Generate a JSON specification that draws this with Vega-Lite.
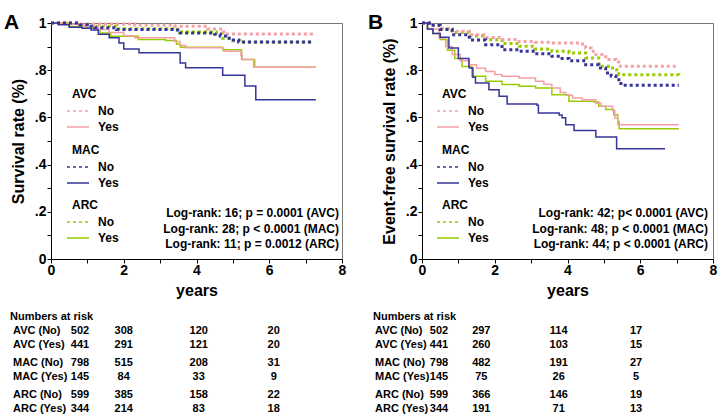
{
  "$schema": "https://vega.github.io/schema/vega-lite/v6.json",
  "padding": {"left": 3, "top": 11, "right": 0, "bottom": 0},
  "background": "white",
  "columns": 2,
  "spacing": {"row": 63, "column": 80},
  "bounds": "flush",
  "datasets": {
    "kmA": [
      {"m":"AVC","st":"No","t":0,"s":1},{"m":"AVC","st":"No","t":0.8,"s":0.996},{"m":"AVC","st":"No","t":2.3,"s":0.99},{"m":"AVC","st":"No","t":3.4,"s":0.986},{"m":"AVC","st":"No","t":4.3,"s":0.975},{"m":"AVC","st":"No","t":4.72,"s":0.963},{"m":"AVC","st":"No","t":4.85,"s":0.953},{"m":"AVC","st":"No","t":7.25,"s":0.953},
      {"m":"AVC","st":"Yes","t":0,"s":1},{"m":"AVC","st":"Yes","t":0.4,"s":0.995},{"m":"AVC","st":"Yes","t":0.9,"s":0.985},{"m":"AVC","st":"Yes","t":1.3,"s":0.972},{"m":"AVC","st":"Yes","t":1.6,"s":0.96},{"m":"AVC","st":"Yes","t":2.0,"s":0.946},{"m":"AVC","st":"Yes","t":2.3,"s":0.937},{"m":"AVC","st":"Yes","t":3.4,"s":0.922},{"m":"AVC","st":"Yes","t":3.55,"s":0.905},{"m":"AVC","st":"Yes","t":3.7,"s":0.895},{"m":"AVC","st":"Yes","t":4.72,"s":0.892},{"m":"AVC","st":"Yes","t":4.75,"s":0.88},{"m":"AVC","st":"Yes","t":5.22,"s":0.862},{"m":"AVC","st":"Yes","t":5.26,"s":0.845},{"m":"AVC","st":"Yes","t":5.57,"s":0.812},{"m":"AVC","st":"Yes","t":7.28,"s":0.812},
      {"m":"MAC","st":"No","t":0,"s":1},{"m":"MAC","st":"No","t":0.8,"s":0.993},{"m":"MAC","st":"No","t":1.0,"s":0.986},{"m":"MAC","st":"No","t":1.2,"s":0.98},{"m":"MAC","st":"No","t":1.8,"s":0.972},{"m":"MAC","st":"No","t":3.4,"s":0.97},{"m":"MAC","st":"No","t":3.55,"s":0.958},{"m":"MAC","st":"No","t":4.5,"s":0.952},{"m":"MAC","st":"No","t":4.65,"s":0.945},{"m":"MAC","st":"No","t":4.8,"s":0.935},{"m":"MAC","st":"No","t":4.95,"s":0.928},{"m":"MAC","st":"No","t":5.16,"s":0.92},{"m":"MAC","st":"No","t":7.2,"s":0.92},
      {"m":"MAC","st":"Yes","t":0,"s":1},{"m":"MAC","st":"Yes","t":0.2,"s":0.993},{"m":"MAC","st":"Yes","t":0.5,"s":0.982},{"m":"MAC","st":"Yes","t":0.85,"s":0.978},{"m":"MAC","st":"Yes","t":1.1,"s":0.97},{"m":"MAC","st":"Yes","t":1.3,"s":0.952},{"m":"MAC","st":"Yes","t":1.6,"s":0.937},{"m":"MAC","st":"Yes","t":1.87,"s":0.915},{"m":"MAC","st":"Yes","t":2.0,"s":0.89},{"m":"MAC","st":"Yes","t":2.42,"s":0.874},{"m":"MAC","st":"Yes","t":3.55,"s":0.83},{"m":"MAC","st":"Yes","t":3.7,"s":0.81},{"m":"MAC","st":"Yes","t":4.72,"s":0.779},{"m":"MAC","st":"Yes","t":5.33,"s":0.733},{"m":"MAC","st":"Yes","t":5.63,"s":0.675},{"m":"MAC","st":"Yes","t":7.28,"s":0.675},
      {"m":"ARC","st":"No","t":0,"s":1},{"m":"ARC","st":"No","t":0.8,"s":0.994},{"m":"ARC","st":"No","t":1.2,"s":0.986},{"m":"ARC","st":"No","t":1.8,"s":0.976},{"m":"ARC","st":"No","t":3.4,"s":0.973},{"m":"ARC","st":"No","t":3.55,"s":0.962},{"m":"ARC","st":"No","t":4.55,"s":0.955},{"m":"ARC","st":"No","t":4.72,"s":0.935},{"m":"ARC","st":"No","t":4.9,"s":0.925},{"m":"ARC","st":"No","t":5.2,"s":0.918},{"m":"ARC","st":"No","t":7.2,"s":0.918},
      {"m":"ARC","st":"Yes","t":0,"s":1},{"m":"ARC","st":"Yes","t":0.5,"s":0.985},{"m":"ARC","st":"Yes","t":1.0,"s":0.978},{"m":"ARC","st":"Yes","t":1.3,"s":0.972},{"m":"ARC","st":"Yes","t":1.35,"s":0.958},{"m":"ARC","st":"Yes","t":1.64,"s":0.944},{"m":"ARC","st":"Yes","t":2.4,"s":0.93},{"m":"ARC","st":"Yes","t":3.15,"s":0.926},{"m":"ARC","st":"Yes","t":3.45,"s":0.91},{"m":"ARC","st":"Yes","t":3.56,"s":0.897},{"m":"ARC","st":"Yes","t":4.72,"s":0.887},{"m":"ARC","st":"Yes","t":5.24,"s":0.845},{"m":"ARC","st":"Yes","t":5.6,"s":0.812},{"m":"ARC","st":"Yes","t":7.28,"s":0.812}
    ],
    "kmB": [
      {"m":"AVC","st":"No","t":0,"s":1},{"m":"AVC","st":"No","t":0.2,"s":0.99},{"m":"AVC","st":"No","t":0.5,"s":0.978},{"m":"AVC","st":"No","t":0.83,"s":0.965},{"m":"AVC","st":"No","t":1.3,"s":0.95},{"m":"AVC","st":"No","t":1.75,"s":0.939},{"m":"AVC","st":"No","t":2.2,"s":0.93},{"m":"AVC","st":"No","t":2.67,"s":0.922},{"m":"AVC","st":"No","t":3.1,"s":0.918},{"m":"AVC","st":"No","t":3.57,"s":0.915},{"m":"AVC","st":"No","t":4.37,"s":0.911},{"m":"AVC","st":"No","t":4.5,"s":0.894},{"m":"AVC","st":"No","t":4.65,"s":0.88},{"m":"AVC","st":"No","t":4.78,"s":0.866},{"m":"AVC","st":"No","t":5.05,"s":0.845},{"m":"AVC","st":"No","t":5.33,"s":0.835},{"m":"AVC","st":"No","t":5.41,"s":0.817},{"m":"AVC","st":"No","t":7.06,"s":0.817},
      {"m":"AVC","st":"Yes","t":0,"s":1},{"m":"AVC","st":"Yes","t":0.15,"s":0.975},{"m":"AVC","st":"Yes","t":0.47,"s":0.936},{"m":"AVC","st":"Yes","t":0.65,"s":0.9},{"m":"AVC","st":"Yes","t":0.83,"s":0.866},{"m":"AVC","st":"Yes","t":1.05,"s":0.84},{"m":"AVC","st":"Yes","t":1.29,"s":0.823},{"m":"AVC","st":"Yes","t":1.5,"s":0.808},{"m":"AVC","st":"Yes","t":1.75,"s":0.795},{"m":"AVC","st":"Yes","t":2.0,"s":0.782},{"m":"AVC","st":"Yes","t":2.2,"s":0.774},{"m":"AVC","st":"Yes","t":2.67,"s":0.767},{"m":"AVC","st":"Yes","t":3.12,"s":0.753},{"m":"AVC","st":"Yes","t":3.35,"s":0.74},{"m":"AVC","st":"Yes","t":3.57,"s":0.725},{"m":"AVC","st":"Yes","t":3.8,"s":0.705},{"m":"AVC","st":"Yes","t":3.95,"s":0.694},{"m":"AVC","st":"Yes","t":4.14,"s":0.682},{"m":"AVC","st":"Yes","t":4.41,"s":0.675},{"m":"AVC","st":"Yes","t":4.78,"s":0.66},{"m":"AVC","st":"Yes","t":4.92,"s":0.647},{"m":"AVC","st":"Yes","t":5.24,"s":0.628},{"m":"AVC","st":"Yes","t":5.3,"s":0.597},{"m":"AVC","st":"Yes","t":5.38,"s":0.569},{"m":"AVC","st":"Yes","t":7.06,"s":0.569},
      {"m":"MAC","st":"No","t":0,"s":1},{"m":"MAC","st":"No","t":0.2,"s":0.99},{"m":"MAC","st":"No","t":0.5,"s":0.972},{"m":"MAC","st":"No","t":0.83,"s":0.95},{"m":"MAC","st":"No","t":1.3,"s":0.928},{"m":"MAC","st":"No","t":1.75,"s":0.908},{"m":"MAC","st":"No","t":2.2,"s":0.887},{"m":"MAC","st":"No","t":2.67,"s":0.88},{"m":"MAC","st":"No","t":3.1,"s":0.87},{"m":"MAC","st":"No","t":3.57,"s":0.859},{"m":"MAC","st":"No","t":3.8,"s":0.85},{"m":"MAC","st":"No","t":4.04,"s":0.84},{"m":"MAC","st":"No","t":4.5,"s":0.823},{"m":"MAC","st":"No","t":4.86,"s":0.809},{"m":"MAC","st":"No","t":5.05,"s":0.788},{"m":"MAC","st":"No","t":5.2,"s":0.775},{"m":"MAC","st":"No","t":5.33,"s":0.76},{"m":"MAC","st":"No","t":5.47,"s":0.736},{"m":"MAC","st":"No","t":7.06,"s":0.736},
      {"m":"MAC","st":"Yes","t":0,"s":1},{"m":"MAC","st":"Yes","t":0.15,"s":0.975},{"m":"MAC","st":"Yes","t":0.3,"s":0.955},{"m":"MAC","st":"Yes","t":0.5,"s":0.94},{"m":"MAC","st":"Yes","t":0.74,"s":0.894},{"m":"MAC","st":"Yes","t":1.0,"s":0.85},{"m":"MAC","st":"Yes","t":1.29,"s":0.809},{"m":"MAC","st":"Yes","t":1.4,"s":0.77},{"m":"MAC","st":"Yes","t":1.47,"s":0.746},{"m":"MAC","st":"Yes","t":1.84,"s":0.717},{"m":"MAC","st":"Yes","t":2.12,"s":0.69},{"m":"MAC","st":"Yes","t":2.34,"s":0.657},{"m":"MAC","st":"Yes","t":3.16,"s":0.651},{"m":"MAC","st":"Yes","t":3.2,"s":0.619},{"m":"MAC","st":"Yes","t":3.77,"s":0.61},{"m":"MAC","st":"Yes","t":3.85,"s":0.598},{"m":"MAC","st":"Yes","t":3.95,"s":0.569},{"m":"MAC","st":"Yes","t":4.18,"s":0.545},{"m":"MAC","st":"Yes","t":4.78,"s":0.517},{"m":"MAC","st":"Yes","t":5.35,"s":0.467},{"m":"MAC","st":"Yes","t":6.68,"s":0.467},
      {"m":"ARC","st":"No","t":0,"s":1},{"m":"ARC","st":"No","t":0.2,"s":0.99},{"m":"ARC","st":"No","t":0.5,"s":0.975},{"m":"ARC","st":"No","t":0.83,"s":0.96},{"m":"ARC","st":"No","t":1.3,"s":0.945},{"m":"ARC","st":"No","t":1.75,"s":0.929},{"m":"ARC","st":"No","t":2.2,"s":0.913},{"m":"ARC","st":"No","t":2.67,"s":0.901},{"m":"ARC","st":"No","t":3.1,"s":0.89},{"m":"ARC","st":"No","t":3.57,"s":0.88},{"m":"ARC","st":"No","t":4.04,"s":0.873},{"m":"ARC","st":"No","t":4.5,"s":0.852},{"m":"ARC","st":"No","t":4.86,"s":0.817},{"m":"ARC","st":"No","t":5.24,"s":0.802},{"m":"ARC","st":"No","t":5.41,"s":0.781},{"m":"ARC","st":"No","t":7.06,"s":0.78},
      {"m":"ARC","st":"Yes","t":0,"s":1},{"m":"ARC","st":"Yes","t":0.15,"s":0.975},{"m":"ARC","st":"Yes","t":0.3,"s":0.955},{"m":"ARC","st":"Yes","t":0.5,"s":0.93},{"m":"ARC","st":"Yes","t":0.7,"s":0.885},{"m":"ARC","st":"Yes","t":0.9,"s":0.85},{"m":"ARC","st":"Yes","t":1.1,"s":0.816},{"m":"ARC","st":"Yes","t":1.37,"s":0.774},{"m":"ARC","st":"Yes","t":1.75,"s":0.753},{"m":"ARC","st":"Yes","t":2.2,"s":0.739},{"m":"ARC","st":"Yes","t":2.67,"s":0.732},{"m":"ARC","st":"Yes","t":3.12,"s":0.725},{"m":"ARC","st":"Yes","t":3.57,"s":0.696},{"m":"ARC","st":"Yes","t":4.04,"s":0.668},{"m":"ARC","st":"Yes","t":4.72,"s":0.665},{"m":"ARC","st":"Yes","t":4.86,"s":0.647},{"m":"ARC","st":"Yes","t":5.05,"s":0.633},{"m":"ARC","st":"Yes","t":5.27,"s":0.611},{"m":"ARC","st":"Yes","t":5.38,"s":0.583},{"m":"ARC","st":"Yes","t":5.42,"s":0.552},{"m":"ARC","st":"Yes","t":7.06,"s":0.552}
    ],
    "riskA": [
      {"row":"AVC (No)","m":"AVC","st":"No","t":0,"n":502},{"row":"AVC (No)","m":"AVC","st":"No","t":2,"n":308},{"row":"AVC (No)","m":"AVC","st":"No","t":4,"n":120},{"row":"AVC (No)","m":"AVC","st":"No","t":6,"n":20},
      {"row":"AVC (Yes)","m":"AVC","st":"Yes","t":0,"n":441},{"row":"AVC (Yes)","m":"AVC","st":"Yes","t":2,"n":291},{"row":"AVC (Yes)","m":"AVC","st":"Yes","t":4,"n":121},{"row":"AVC (Yes)","m":"AVC","st":"Yes","t":6,"n":20},
      {"row":"MAC (No)","m":"MAC","st":"No","t":0,"n":798},{"row":"MAC (No)","m":"MAC","st":"No","t":2,"n":515},{"row":"MAC (No)","m":"MAC","st":"No","t":4,"n":208},{"row":"MAC (No)","m":"MAC","st":"No","t":6,"n":31},
      {"row":"MAC (Yes)","m":"MAC","st":"Yes","t":0,"n":145},{"row":"MAC (Yes)","m":"MAC","st":"Yes","t":2,"n":84},{"row":"MAC (Yes)","m":"MAC","st":"Yes","t":4,"n":33},{"row":"MAC (Yes)","m":"MAC","st":"Yes","t":6,"n":9},
      {"row":"ARC (No)","m":"ARC","st":"No","t":0,"n":599},{"row":"ARC (No)","m":"ARC","st":"No","t":2,"n":385},{"row":"ARC (No)","m":"ARC","st":"No","t":4,"n":158},{"row":"ARC (No)","m":"ARC","st":"No","t":6,"n":22},
      {"row":"ARC (Yes)","m":"ARC","st":"Yes","t":0,"n":344},{"row":"ARC (Yes)","m":"ARC","st":"Yes","t":2,"n":214},{"row":"ARC (Yes)","m":"ARC","st":"Yes","t":4,"n":83},{"row":"ARC (Yes)","m":"ARC","st":"Yes","t":6,"n":18}
    ],
    "riskB": [
      {"row":"AVC (No)","m":"AVC","st":"No","t":0,"n":502},{"row":"AVC (No)","m":"AVC","st":"No","t":2,"n":297},{"row":"AVC (No)","m":"AVC","st":"No","t":4,"n":114},{"row":"AVC (No)","m":"AVC","st":"No","t":6,"n":17},
      {"row":"AVC (Yes)","m":"AVC","st":"Yes","t":0,"n":441},{"row":"AVC (Yes)","m":"AVC","st":"Yes","t":2,"n":260},{"row":"AVC (Yes)","m":"AVC","st":"Yes","t":4,"n":103},{"row":"AVC (Yes)","m":"AVC","st":"Yes","t":6,"n":15},
      {"row":"MAC (No)","m":"MAC","st":"No","t":0,"n":798},{"row":"MAC (No)","m":"MAC","st":"No","t":2,"n":482},{"row":"MAC (No)","m":"MAC","st":"No","t":4,"n":191},{"row":"MAC (No)","m":"MAC","st":"No","t":6,"n":27},
      {"row":"MAC (Yes)","m":"MAC","st":"Yes","t":0,"n":145},{"row":"MAC (Yes)","m":"MAC","st":"Yes","t":2,"n":75},{"row":"MAC (Yes)","m":"MAC","st":"Yes","t":4,"n":26},{"row":"MAC (Yes)","m":"MAC","st":"Yes","t":6,"n":5},
      {"row":"ARC (No)","m":"ARC","st":"No","t":0,"n":599},{"row":"ARC (No)","m":"ARC","st":"No","t":2,"n":366},{"row":"ARC (No)","m":"ARC","st":"No","t":4,"n":146},{"row":"ARC (No)","m":"ARC","st":"No","t":6,"n":19},
      {"row":"ARC (Yes)","m":"ARC","st":"Yes","t":0,"n":344},{"row":"ARC (Yes)","m":"ARC","st":"Yes","t":2,"n":191},{"row":"ARC (Yes)","m":"ARC","st":"Yes","t":4,"n":71},{"row":"ARC (Yes)","m":"ARC","st":"Yes","t":6,"n":13}
    ]
  },
  "concat": [
    {
      "title": {"text": "A", "anchor": "start", "frame": "group", "dx": -47, "dy": 27, "offset": -7, "baseline": "alphabetic", "fontSize": 21, "fontWeight": "bold", "color": "black", "font": "Liberation Sans"},
      "width": 291, "height": 236,
      "data": {"name": "kmA"},
      "encoding": {
        "x": {"field": "t", "type": "quantitative", "scale": {"domain": [0, 8], "nice": false},
              "axis": {"values": [0,1,2,3,4,5,6,7,8], "labelExpr": "datum.value % 2 === 0 ? datum.label : ''", "title": "years"}},
        "y": {"field": "s", "type": "quantitative", "scale": {"domain": [0, 1], "nice": false},
              "axis": {"values": [0,0.1,0.2,0.3,0.4,0.5,0.6,0.7,0.8,0.9,1], "labelExpr": "datum.value === 0 ? '0' : datum.value === 1 ? '1' : (round(datum.value*10) % 2 === 0 ? '.' + round(datum.value*10) : '')", "title": "Survival rate (%)"}}
      },
      "layer": [
        {
          "transform": [{"filter": "datum.m === 'ARC'"}],
          "mark": {"type": "line", "interpolate": "step-after"},
          "encoding": {
            "color": {"field": "st", "type": "nominal", "scale": {"domain": ["No","Yes"], "range": ["#99cc00","#99cc00"]}, "legend": {"title": "ARC", "orient": "none", "legendX": 21, "legendY": 177}},
            "strokeDash": {"field": "st", "type": "nominal", "scale": {"domain": ["No","Yes"], "range": [[3,3],[1,0]]}, "legend": {"title": "ARC", "orient": "none", "legendX": 21, "legendY": 177}},
            "strokeWidth": {"condition": {"test": "datum.st === 'No'", "value": 3}, "value": 1.5}
          }
        },
        {
          "transform": [{"filter": "datum.m === 'AVC'"}],
          "mark": {"type": "line", "interpolate": "step-after"},
          "encoding": {
            "color": {"field": "st", "type": "nominal", "scale": {"domain": ["No","Yes"], "range": ["#f5a0a6","#f5a0a6"]}, "legend": {"title": "AVC", "orient": "none", "legendX": 21, "legendY": 66}},
            "strokeDash": {"field": "st", "type": "nominal", "scale": {"domain": ["No","Yes"], "range": [[3,3],[1,0]]}, "legend": {"title": "AVC", "orient": "none", "legendX": 21, "legendY": 66}},
            "strokeWidth": {"condition": {"test": "datum.st === 'No'", "value": 3}, "value": 1.5}
          }
        },
        {
          "transform": [{"filter": "datum.m === 'MAC'"}],
          "mark": {"type": "line", "interpolate": "step-after"},
          "encoding": {
            "color": {"field": "st", "type": "nominal", "scale": {"domain": ["No","Yes"], "range": ["#34349a","#34349a"]}, "legend": {"title": "MAC", "orient": "none", "legendX": 21, "legendY": 122}},
            "strokeDash": {"field": "st", "type": "nominal", "scale": {"domain": ["No","Yes"], "range": [[3,3],[1,0]]}, "legend": {"title": "MAC", "orient": "none", "legendX": 21, "legendY": 122}},
            "strokeWidth": {"condition": {"test": "datum.st === 'No'", "value": 3}, "value": 1.5}
          }
        },
        {
          "transform": [{"filter": "datum.m === 'AVC' && datum.st === 'No' && datum.t === 0"}],
          "mark": {"type": "text", "text": ["Log-rank: 16; p = 0.0001 (AVC)", "Log-rank: 28; p < 0.0001 (MAC)", "Log-rank: 11; p = 0.0012 (ARC)"], "align": "right", "baseline": "bottom", "lineHeight": 15.5, "dx": -3, "dy": -39, "fontSize": 12, "fontWeight": "bold", "font": "Liberation Sans", "color": "black"},
          "encoding": {"x": {"datum": 8}, "y": {"datum": 0}}
        }
      ],
      "resolve": {"scale": {"color": "independent", "strokeDash": "independent"}}
    },
    {
      "title": {"text": "B", "anchor": "start", "frame": "group", "dx": -54, "dy": 27, "offset": -7, "baseline": "alphabetic", "fontSize": 21, "fontWeight": "bold", "color": "black", "font": "Liberation Sans"},
      "width": 291, "height": 236,
      "data": {"name": "kmB"},
      "encoding": {
        "x": {"field": "t", "type": "quantitative", "scale": {"domain": [0, 8], "nice": false},
              "axis": {"values": [0,1,2,3,4,5,6,7,8], "labelExpr": "datum.value % 2 === 0 ? datum.label : ''", "title": "years"}},
        "y": {"field": "s", "type": "quantitative", "scale": {"domain": [0, 1], "nice": false},
              "axis": {"values": [0,0.1,0.2,0.3,0.4,0.5,0.6,0.7,0.8,0.9,1], "labelExpr": "datum.value === 0 ? '0' : datum.value === 1 ? '1' : (round(datum.value*10) % 2 === 0 ? '.' + round(datum.value*10) : '')", "title": "Event-free survival rate (%)"}}
      },
      "layer": [
        {
          "transform": [{"filter": "datum.m === 'ARC'"}],
          "mark": {"type": "line", "interpolate": "step-after"},
          "encoding": {
            "color": {"field": "st", "type": "nominal", "scale": {"domain": ["No","Yes"], "range": ["#99cc00","#99cc00"]}, "legend": {"title": "ARC", "orient": "none", "legendX": 20, "legendY": 177}},
            "strokeDash": {"field": "st", "type": "nominal", "scale": {"domain": ["No","Yes"], "range": [[3,3],[1,0]]}, "legend": {"title": "ARC", "orient": "none", "legendX": 20, "legendY": 177}},
            "strokeWidth": {"condition": {"test": "datum.st === 'No'", "value": 3}, "value": 1.5}
          }
        },
        {
          "transform": [{"filter": "datum.m === 'AVC'"}],
          "mark": {"type": "line", "interpolate": "step-after"},
          "encoding": {
            "color": {"field": "st", "type": "nominal", "scale": {"domain": ["No","Yes"], "range": ["#f5a0a6","#f5a0a6"]}, "legend": {"title": "AVC", "orient": "none", "legendX": 20, "legendY": 66}},
            "strokeDash": {"field": "st", "type": "nominal", "scale": {"domain": ["No","Yes"], "range": [[3,3],[1,0]]}, "legend": {"title": "AVC", "orient": "none", "legendX": 20, "legendY": 66}},
            "strokeWidth": {"condition": {"test": "datum.st === 'No'", "value": 3}, "value": 1.5}
          }
        },
        {
          "transform": [{"filter": "datum.m === 'MAC'"}],
          "mark": {"type": "line", "interpolate": "step-after"},
          "encoding": {
            "color": {"field": "st", "type": "nominal", "scale": {"domain": ["No","Yes"], "range": ["#34349a","#34349a"]}, "legend": {"title": "MAC", "orient": "none", "legendX": 20, "legendY": 122}},
            "strokeDash": {"field": "st", "type": "nominal", "scale": {"domain": ["No","Yes"], "range": [[3,3],[1,0]]}, "legend": {"title": "MAC", "orient": "none", "legendX": 20, "legendY": 122}},
            "strokeWidth": {"condition": {"test": "datum.st === 'No'", "value": 3}, "value": 1.5}
          }
        },
        {
          "transform": [{"filter": "datum.m === 'AVC' && datum.st === 'No' && datum.t === 0"}],
          "mark": {"type": "text", "text": ["Log-rank: 42; p< 0.0001 (AVC)", "Log-rank: 48; p < 0.0001 (MAC)", "Log-rank: 44; p < 0.0001 (ARC)"], "align": "right", "baseline": "bottom", "lineHeight": 15.5, "dx": -5, "dy": -39, "fontSize": 12, "fontWeight": "bold", "font": "Liberation Sans", "color": "black"},
          "encoding": {"x": {"datum": 8}, "y": {"datum": 0}}
        }
      ],
      "resolve": {"scale": {"color": "independent", "strokeDash": "independent"}}
    },
    {
      "title": {"text": "Numbers at risk", "anchor": "start", "frame": "group", "dx": -41, "dy": 11, "offset": 2, "baseline": "alphabetic", "fontSize": 11, "fontWeight": "bold", "color": "black", "font": "Liberation Sans"},
      "width": 291, "height": 96,
      "view": {"stroke": null},
      "data": {"name": "riskA"},
      "encoding": {
        "y": {"field": "m", "type": "nominal", "scale": {"type": "point", "domain": ["AVC","MAC","ARC"], "padding": 0.5}, "axis": null},
        "yOffset": {"field": "st", "type": "nominal", "scale": {"type": "point", "domain": ["No","Yes"], "range": [-7, 6.5], "padding": 0}}
      },
      "layer": [
        {
          "transform": [{"filter": "datum.t === 0"}],
          "mark": {"type": "text", "align": "left", "dx": -35.7, "fontSize": 11, "fontWeight": "bold", "font": "Liberation Sans", "color": "black"},
          "encoding": {"x": {"datum": 0, "type": "quantitative", "scale": {"domain": [0, 8], "range": [-2.3, 297.7]}, "axis": null}, "text": {"field": "row"}}
        },
        {
          "transform": [{"filter": "datum.t === 0"}],
          "mark": {"type": "text", "align": "center", "dx": 31.3, "fontSize": 11, "fontWeight": "bold", "font": "Liberation Sans", "color": "black"},
          "encoding": {"x": {"field": "t", "type": "quantitative", "axis": null}, "text": {"field": "n"}}
        },
        {
          "transform": [{"filter": "datum.t > 0"}],
          "mark": {"type": "text", "align": "center", "fontSize": 11, "fontWeight": "bold", "font": "Liberation Sans", "color": "black"},
          "encoding": {"x": {"field": "t", "type": "quantitative", "axis": null}, "text": {"field": "n"}}
        }
      ]
    },
    {
      "title": {"text": "Numbers at risk", "anchor": "start", "frame": "group", "dx": -49, "dy": 11, "offset": 2, "baseline": "alphabetic", "fontSize": 11, "fontWeight": "bold", "color": "black", "font": "Liberation Sans"},
      "width": 291, "height": 96,
      "view": {"stroke": null},
      "data": {"name": "riskB"},
      "encoding": {
        "y": {"field": "m", "type": "nominal", "scale": {"type": "point", "domain": ["AVC","MAC","ARC"], "padding": 0.5}, "axis": null},
        "yOffset": {"field": "st", "type": "nominal", "scale": {"type": "point", "domain": ["No","Yes"], "range": [-7, 6.5], "padding": 0}}
      },
      "layer": [
        {
          "transform": [{"filter": "datum.t === 0"}],
          "mark": {"type": "text", "align": "left", "dx": -28.9, "fontSize": 11, "fontWeight": "bold", "font": "Liberation Sans", "color": "black"},
          "encoding": {"x": {"datum": 0, "type": "quantitative", "scale": {"domain": [0, 8], "range": [-18.1, 291.5]}, "axis": null}, "text": {"field": "row"}}
        },
        {
          "transform": [{"filter": "datum.t === 0"}],
          "mark": {"type": "text", "align": "center", "dx": 35.1, "fontSize": 11, "fontWeight": "bold", "font": "Liberation Sans", "color": "black"},
          "encoding": {"x": {"field": "t", "type": "quantitative", "axis": null}, "text": {"field": "n"}}
        },
        {
          "transform": [{"filter": "datum.t > 0"}],
          "mark": {"type": "text", "align": "center", "fontSize": 11, "fontWeight": "bold", "font": "Liberation Sans", "color": "black"},
          "encoding": {"x": {"field": "t", "type": "quantitative", "axis": null}, "text": {"field": "n"}}
        }
      ]
    }
  ],
  "config": {
    "font": "Liberation Sans",
    "view": {"stroke": "#777777", "strokeWidth": 1},
    "axis": {
      "grid": false, "domainColor": "black", "domainWidth": 1, "tickColor": "black", "tickSize": 4, "tickWidth": 1,
      "labelFont": "Liberation Sans", "labelFontSize": 14, "labelFontWeight": "bold", "labelColor": "black", "labelFlush": false, "labelOverlap": false,
      "titleFont": "Liberation Sans", "titleFontSize": 16, "titleFontWeight": "bold", "titleColor": "black"
    },
    "axisX": {"labelPadding": 0, "titlePadding": 5},
    "axisY": {"labelPadding": 1, "titlePadding": 8},
    "legend": {
      "titleFont": "Liberation Sans", "titleFontSize": 12, "titleFontWeight": "bold", "titleColor": "black", "titlePadding": 4,
      "labelFont": "Liberation Sans", "labelFontSize": 12, "labelFontWeight": "bold", "labelColor": "black", "labelOffset": 14,
      "symbolType": "M-2.75,0H2.75", "symbolSize": 64, "symbolStrokeWidth": 1.5, "rowPadding": 4, "padding": 0
    }
  }
}
